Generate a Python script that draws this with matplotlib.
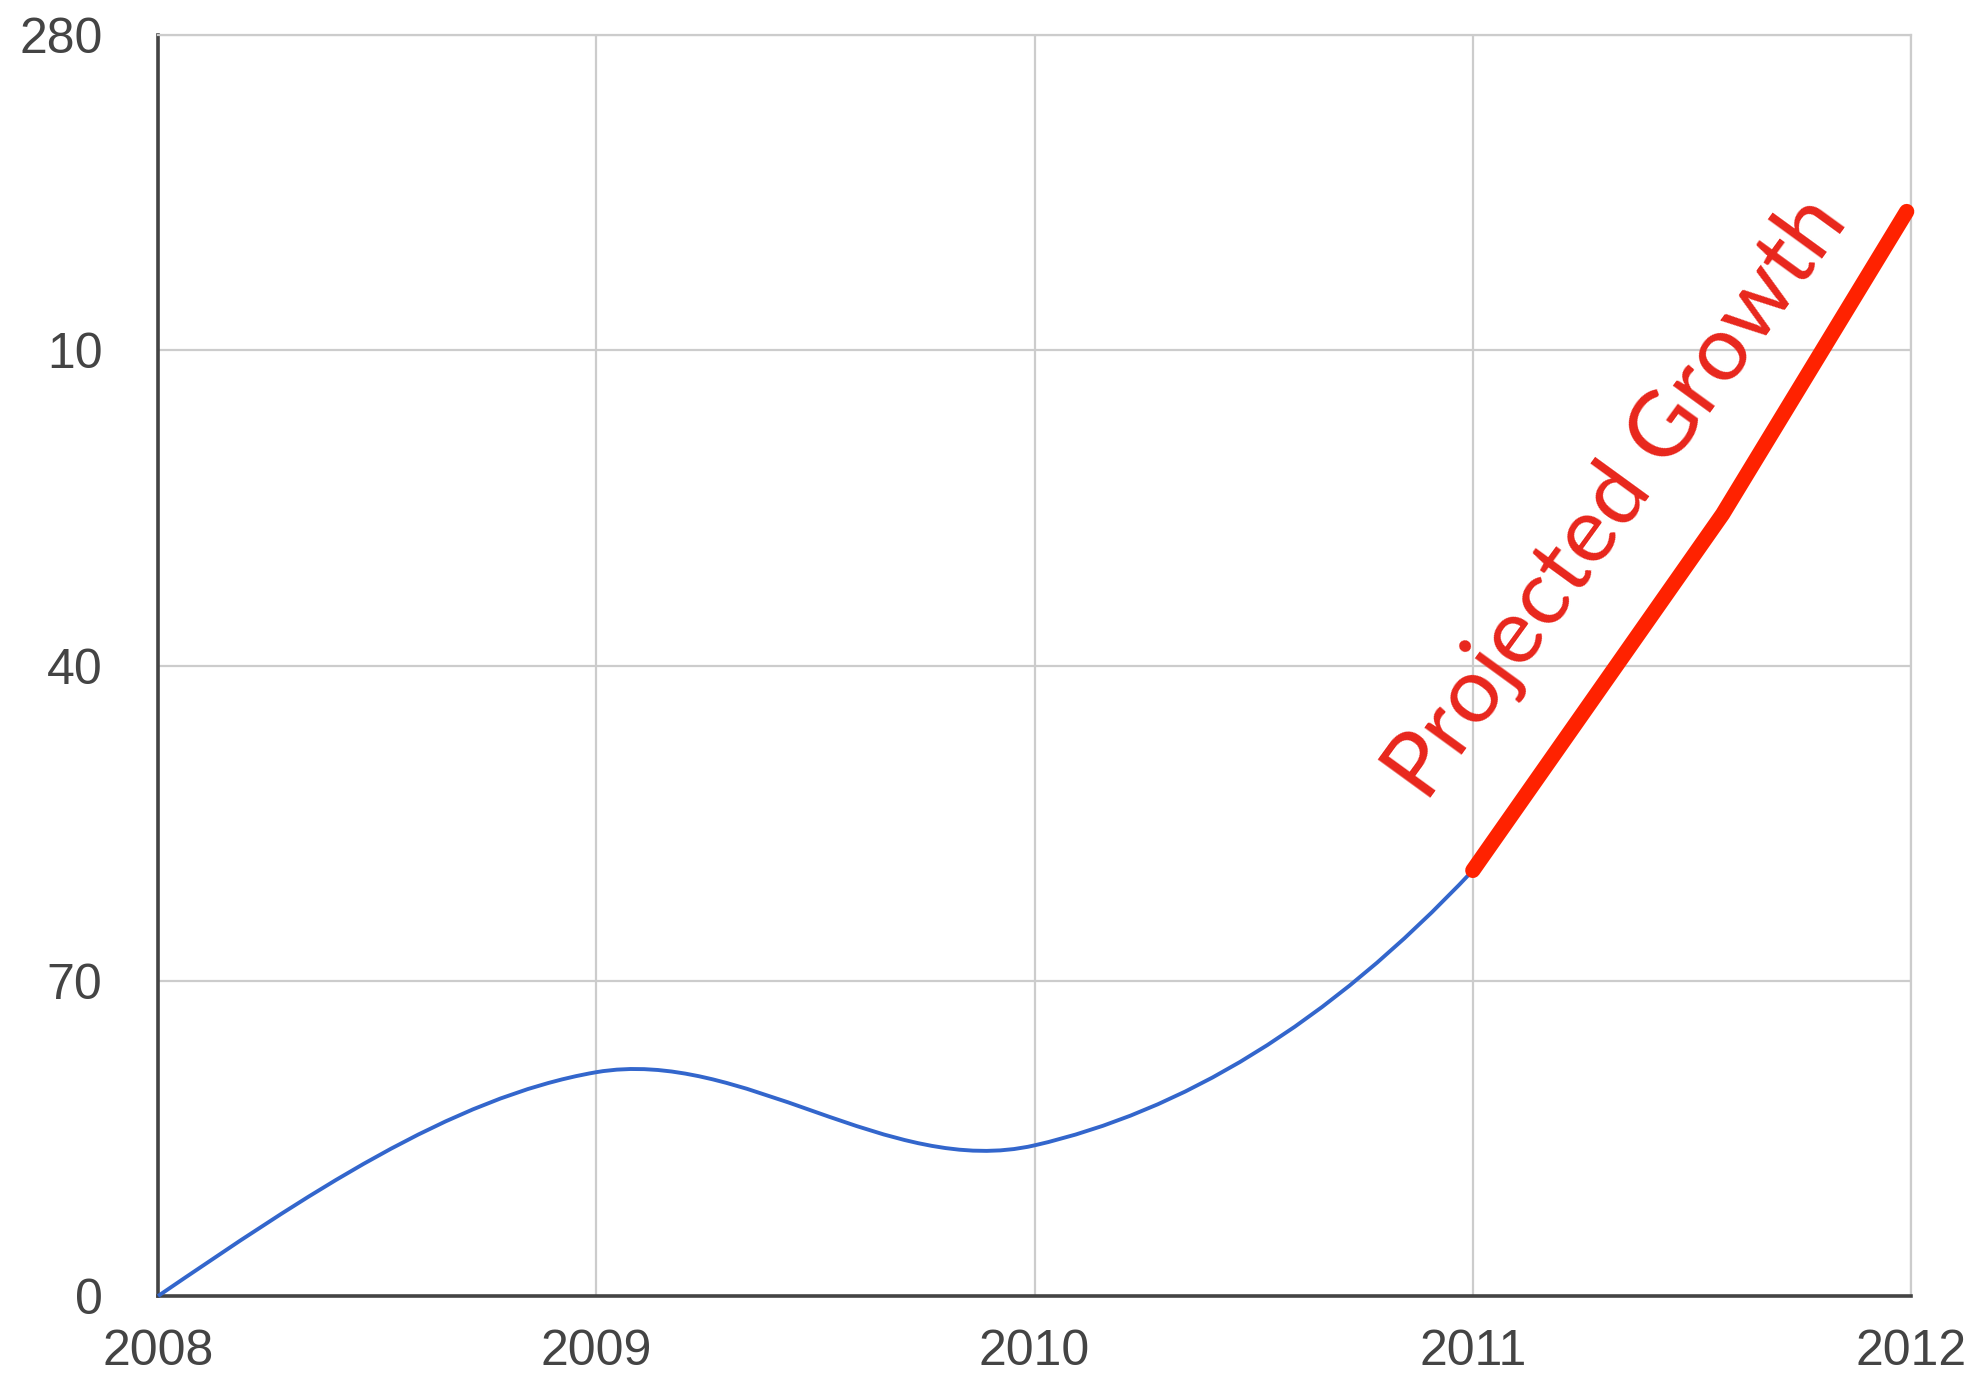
import matplotlib
matplotlib.use("Agg")
import matplotlib.pyplot as plt
from matplotlib.path import Path
from matplotlib.patches import PathPatch

# yearly values (in grid-row units, the y labels are not a real scale)
years = [2008, 2009, 2010, 2011]
actual = [0.0, 0.71, 0.478, 1.35]

proj_years = [2011, 2011.57, 2011.99]
projected = [1.35, 2.48, 3.44]

x_ticks = [2008, 2009, 2010, 2011, 2012]
y_ticks = [0, 1, 2, 3, 4]
y_labels = ["0", "70", "40", "10", "280"]


def smooth_path(xs, ys, next_pt=None):
    # catmull-rom style tangents, drawn as cubic bezier segments
    n = len(xs)
    tang = [None] * n
    for i in range(1, n - 1):
        tang[i] = ((xs[i + 1] - xs[i - 1]) / 2, (ys[i + 1] - ys[i - 1]) / 2)
    if next_pt is not None:
        tang[-1] = ((next_pt[0] - xs[-2]) / 2, (next_pt[1] - ys[-2]) / 2)
    else:
        tang[-1] = (xs[-1] - xs[-2], ys[-1] - ys[-2])
    # natural start: no curvature at the first point
    tang[0] = (1.5 * (xs[1] - xs[0]) - 0.5 * tang[1][0],
               1.5 * (ys[1] - ys[0]) - 0.5 * tang[1][1])
    verts = [(xs[0], ys[0])]
    codes = [Path.MOVETO]
    for i in range(n - 1):
        verts.append((xs[i] + tang[i][0] / 3, ys[i] + tang[i][1] / 3))
        verts.append((xs[i + 1] - tang[i + 1][0] / 3, ys[i + 1] - tang[i + 1][1] / 3))
        verts.append((xs[i + 1], ys[i + 1]))
        codes += [Path.CURVE4] * 3
    return Path(verts, codes)


fig = plt.figure(figsize=(19.88, 13.82), dpi=100)
ax = fig.add_axes([0.0795, 0.0622, 0.8818, 0.9125])

ax.set_xlim(2008, 2012)
ax.set_ylim(0, 4)

ax.grid(True, color="#cccccc", linewidth=1.6)
ax.set_axisbelow(True)

blue = smooth_path(years, actual, next_pt=(2012, projected[-1]))
ax.add_patch(PathPatch(blue, fill=False, edgecolor="#3366cc", linewidth=2.8,
                       clip_on=False, zorder=3))

ax.plot(proj_years, projected, color="#ff2200", linewidth=11,
        solid_capstyle="round", solid_joinstyle="round", clip_on=False, zorder=4)

ax.text(2011.33, 2.53, "Projected Growth", color="#e8261c", fontsize=66,
        family="Lato", rotation=54, ha="center", va="center")

ax.set_xticks(x_ticks)
ax.set_xticklabels([str(y) for y in x_ticks])
ax.set_yticks(y_ticks)
ax.set_yticklabels(y_labels)
ax.tick_params(length=0, labelsize=36, colors="#444444")
ax.tick_params(axis="x", pad=24)
ax.tick_params(axis="y", pad=40)
for lab in ax.get_xticklabels() + ax.get_yticklabels():
    lab.set_family("Liberation Sans")

for s in ["left", "bottom"]:
    ax.spines[s].set_color("#444444")
    ax.spines[s].set_linewidth(2.6)
for s in ["top", "right"]:
    ax.spines[s].set_color("#cccccc")
    ax.spines[s].set_linewidth(1.6)

fig.savefig("out.png", dpi=100)
plt.close(fig)
